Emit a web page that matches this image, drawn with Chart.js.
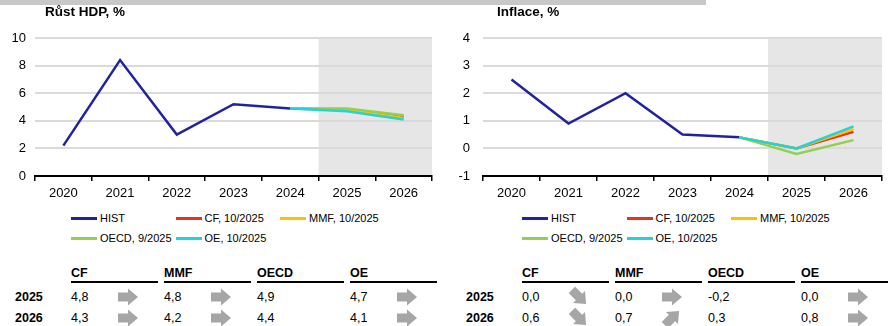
<!DOCTYPE html>
<html>
<head>
<meta charset="utf-8">
<script src="https://cdn.jsdelivr.net/npm/chart.js@4.4.1/dist/chart.umd.min.js"></script>
<style>
  body { margin: 0; width: 891px; height: 326px; overflow: hidden; background: #fff;
         font-family: "Liberation Sans", Arial, sans-serif; color: #000; }
  #topbar { position: absolute; left: 0; top: 0; width: 706px; height: 5px; background: #c8c8c8; }
  .panel { position: absolute; top: 0; width: 446px; height: 326px; }
  .panel canvas { position: absolute; left: 0; top: 0; }
  .title { position: absolute; top: 4px; font-weight: bold; font-size: 13.5px; }
  .legend { position: absolute; top: 210px; }
  .legend .item { position: absolute; white-space: nowrap; font-size: 11px; height: 16px; line-height: 16px; }
  .legend .swatch { display: inline-block; width: 26px; height: 3px; vertical-align: middle; margin-right: 3px; position: relative; top: -1px; }
  .tbl { position: absolute; top: 266px; font-size: 12.5px; }
  .tbl .hd { position: absolute; top: 0; width: 87px; height: 15px; font-weight: bold; border-bottom: 2px solid #000; }
  .tbl .rl { position: absolute; font-weight: bold; }
  .tbl .v { position: absolute; }
  .tbl svg { position: absolute; }
</style>
</head>
<body>
<div id="topbar"></div>

<div class="panel" id="gdpPanel" style="left:0">
  <canvas id="gdpChart" width="445" height="205"></canvas>
  <div class="title" style="left:45px">Růst HDP, %</div>
  <div class="legend" id="gdpLegend" style="left:71px"></div>
  <div class="tbl" id="gdpTable" style="left:0"></div>
</div>

<div class="panel" id="cpiPanel" style="left:445px">
  <canvas id="cpiChart" width="446" height="205"></canvas>
  <div class="title" style="left:52px">Inflace, %</div>
  <div class="legend" id="cpiLegend" style="left:77px"></div>
  <div class="tbl" id="cpiTable" style="left:6px"></div>
</div>

<script>
// categories
var years = ["2020", "2021", "2022", "2023", "2024", "2025", "2026"];
var forecastFrom = "2025";
var forecastYears = ["2025", "2026"];

// sources of the forecasts
var sources = ["CF", "MMF", "OECD", "OE"];
var sourceLabels = ["CF, 10/2025", "MMF, 10/2025", "OECD, 9/2025", "OE, 10/2025"];
var colors = ["#e8321e", "#ffc000", "#92d050", "#22d3d8"];
var histColor = "#2222a0";

// GDP growth
var gdpHist = [2.2, 8.4, 3.0, 5.2, 4.9];
var gdpCF = [4.8, 4.3];
var gdpMMF = [4.8, 4.2];
var gdpOECD = [4.9, 4.4];
var gdpOE = [4.7, 4.1];
// arrow direction per year: "r" right, "dr" down-right, "ur" up-right, "" none
var gdpArrows2025 = ["r", "r", "", "r"];
var gdpArrows2026 = ["r", "r", "", "r"];

// inflation
var cpiHist = [2.5, 0.9, 2.0, 0.5, 0.4];
var cpiCF = [0.0, 0.6];
var cpiMMF = [0.0, 0.7];
var cpiOECD = [-0.2, 0.3];
var cpiOE = [0.0, 0.8];
var cpiArrows2025 = ["dr", "r", "", "r"];
var cpiArrows2026 = ["dr", "ur", "", "r"];

var forecastShade = {
  id: "forecastShade",
  beforeDraw: function (chart) {
    var x = chart.scales.x;
    var a = chart.chartArea;
    var i = chart.data.labels.indexOf(forecastFrom);
    var left = (x.getPixelForValue(i - 1) + x.getPixelForValue(i)) / 2;
    var ctx = chart.ctx;
    ctx.save();
    ctx.fillStyle = "#e6e6e6";
    ctx.fillRect(left, a.top, a.right - left, a.bottom - a.top);
    ctx.restore();
  }
};

function histData(hist) {
  var d = hist.slice();
  while (d.length < years.length) d.push(null);
  return d;
}

function forecastData(hist, values) {
  var d = [];
  for (var i = 0; i < hist.length - 1; i++) d.push(null);
  d.push(hist[hist.length - 1]);
  return d.concat(values);
}

function drawChart(id, hist, forecasts, yMin, yMax, step, yWidth, tickPad, padRight) {
  var datasets = [{ label: "HIST", data: histData(hist), borderColor: histColor }];
  forecasts.forEach(function (f, i) {
    datasets.push({ label: sourceLabels[i], data: forecastData(hist, f), borderColor: colors[i] });
  });
  datasets.forEach(function (ds, i) {
    ds.borderWidth = 2.5;
    ds.pointRadius = 0;
    ds.tension = 0;
    ds.fill = false;
    ds.order = -i; // later series on top
  });

  return new Chart(document.getElementById(id), {
    type: "line",
    data: { labels: years, datasets: datasets },
    plugins: [forecastShade],
    options: {
      responsive: false,
      animation: false,
      layout: { padding: { top: 38, right: padRight, left: 0, bottom: 0 } },
      plugins: { legend: { display: false }, tooltip: { enabled: false } },
      scales: {
        x: {
          offset: true,
          grid: { offset: true, drawOnChartArea: false, drawTicks: true, tickLength: 5, color: "#000", lineWidth: 1.5 },
          border: { display: true, color: "#000", width: 2 },
          ticks: { padding: 5, color: "#000", font: { family: "Liberation Sans", size: 13 }, maxRotation: 0, autoSkip: false },
          afterFit: function (s) { s.height = 29; }
        },
        y: {
          min: yMin,
          max: yMax,
          ticks: { stepSize: step, padding: tickPad, color: "#000", font: { family: "Liberation Sans", size: 13 } },
          grid: { color: "#dadada", lineWidth: 2, drawTicks: false },
          border: { display: false },
          afterFit: function (s) { s.width = yWidth; }
        }
      }
    }
  });
}

function buildLegend(el, chart) {
  chart.data.datasets.forEach(function (ds, i) {
    var item = document.createElement("div");
    item.className = "item";
    item.style.left = (i % 3) * 104.5 + "px";
    item.style.top = Math.floor(i / 3) * 20 + "px";
    item.innerHTML = '<span class="swatch" style="background:' + ds.borderColor + '"></span>' + ds.label;
    el.appendChild(item);
  });
}

function arrowSvg(dir) {
  var rot = { r: 0, dr: 45, ur: -45 }[dir];
  return '<svg width="22" height="22" viewBox="0 0 22 22">' +
    '<polygon fill="#a6a6a6" transform="rotate(' + rot + ' 11 11)" ' +
    'points="1,6.5 11,6.5 11,2.5 21,11 11,19.5 11,15.5 1,15.5"/></svg>';
}

function fmt(v) { return v.toFixed(1).replace(".", ","); }

function buildTable(el, forecasts, arrowRows, rowLabelX) {
  var html = "";
  var rowTops = [24, 45];
  sources.forEach(function (s, c) {
    var cx = 71 + c * 93;
    html += '<div class="hd" style="left:' + cx + 'px">' + s + '</div>';
    forecastYears.forEach(function (y, r) {
      html += '<div class="v" style="left:' + cx + 'px;top:' + rowTops[r] + 'px">' + fmt(forecasts[c][r]) + '</div>';
      var dir = arrowRows[r][c];
      if (dir) {
        html += '<div style="position:absolute;left:' + (cx + 46) + 'px;top:' + (rowTops[r] - 4) + 'px">' + arrowSvg(dir) + '</div>';
      }
    });
  });
  forecastYears.forEach(function (y, r) {
    html += '<div class="rl" style="left:' + rowLabelX + 'px;top:' + rowTops[r] + 'px">' + y + '</div>';
  });
  el.innerHTML = html;
}

var gdpForecasts = [gdpCF, gdpMMF, gdpOECD, gdpOE];
var cpiForecasts = [cpiCF, cpiMMF, cpiOECD, cpiOE];

var gdpChart = drawChart("gdpChart", gdpHist, gdpForecasts, 0, 10, 2, 35, 9, 13);
var cpiChart = drawChart("cpiChart", cpiHist, cpiForecasts, -1, 4, 1, 38, 13, 9);

buildLegend(document.getElementById("gdpLegend"), gdpChart);
buildLegend(document.getElementById("cpiLegend"), cpiChart);

buildTable(document.getElementById("gdpTable"), gdpForecasts, [gdpArrows2025, gdpArrows2026], 15);
buildTable(document.getElementById("cpiTable"), cpiForecasts, [cpiArrows2025, cpiArrows2026], 15);
</script>
</body>
</html>
